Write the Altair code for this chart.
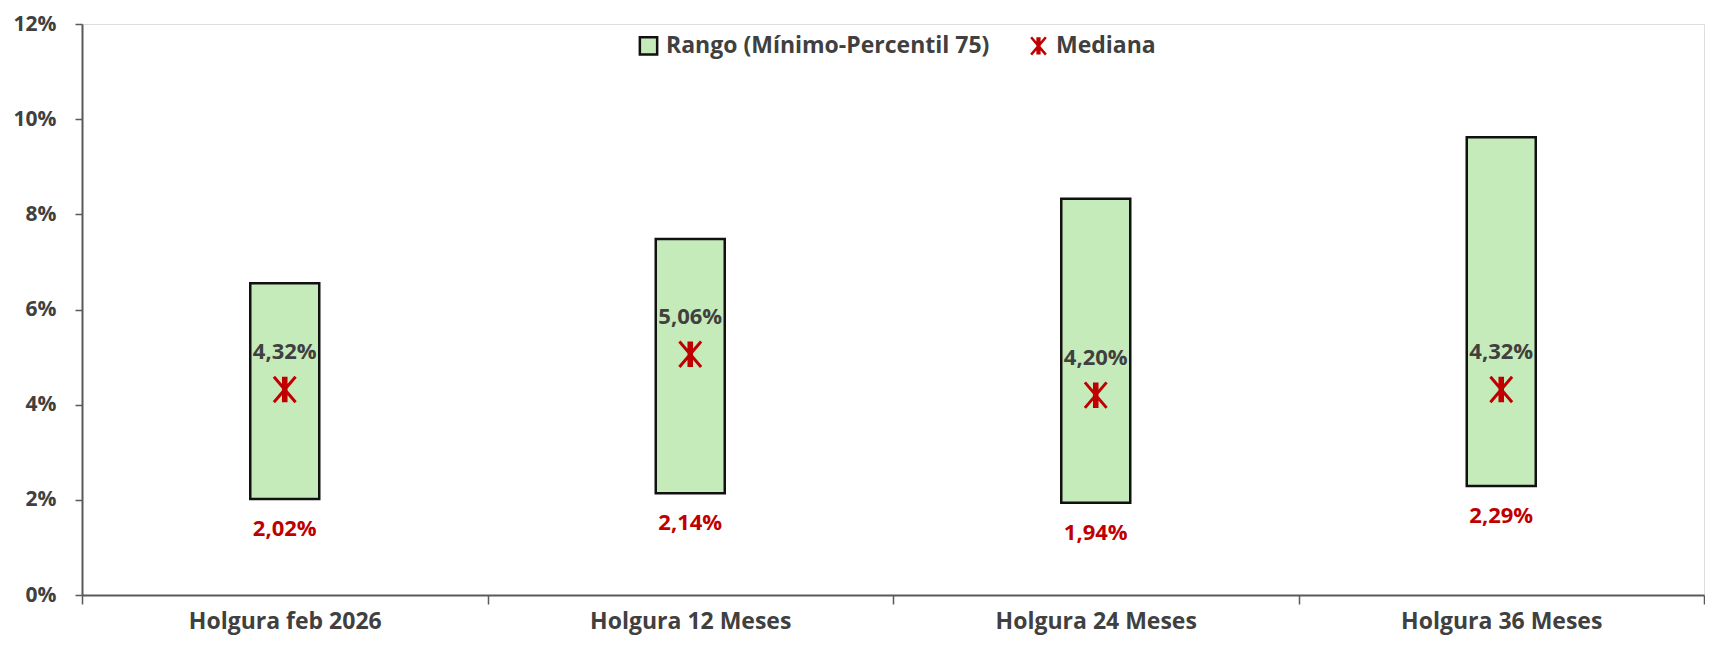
import altair as alt
import pandas as pd

categorias = ["Holgura feb 2026", "Holgura 12 Meses", "Holgura 24 Meses", "Holgura 36 Meses"]
minimo = [2.02, 2.14, 1.94, 2.29]
percentil75 = [6.55, 7.48, 8.33, 9.62]
mediana = [4.32, 5.06, 4.20, 4.32]

RANGO = "Rango (Mínimo-Percentil 75)"
MEDIANA = "Mediana"
FONT = "Open Sans"
GREEN = "#C6EBBB"
RED = "#C00000"
GRAY = "#404040"
STAR = "M-0.85,-1L0.85,1M-0.85,1L0.85,-1M-0.1,-1L-0.1,1M0.1,-1L0.1,1"


def fmt(v):
    return f"{v:.2f}".replace(".", ",") + "%"


df = pd.DataFrame({
    "cat": categorias,
    "min": minimo,
    "p75": percentil75,
    "med": mediana,
    "min_lbl": [fmt(v) for v in minimo],
    "med_lbl": [fmt(v) for v in mediana],
})
df_bar = df.assign(serie=RANGO)
df_med = df.assign(serie=MEDIANA)

x = alt.X("cat:N", sort=categorias, title=None,
          axis=alt.Axis(labelAngle=0, tickBand="extent", labelPadding=6, tickSize=9,
                        labelFontSize=23, labelFont=FONT, labelFontWeight="bold",
                        labelColor=GRAY, domainColor="#595959", tickColor="#595959",
                        domainWidth=2, tickWidth=1.5, labelLimit=0),
          scale=alt.Scale(paddingInner=0, paddingOuter=0))
y_scale = alt.Scale(domain=[0, 12], nice=False)
y_axis = alt.Axis(values=[0, 2, 4, 6, 8, 10, 12], labelExpr="datum.value + '%'",
                  grid=False, tickSize=7, labelPadding=19, labelFontSize=21,
                  labelFont=FONT, labelFontWeight="bold", labelColor=GRAY,
                  domainColor="#595959", tickColor="#595959", domainWidth=2, tickWidth=1.5,
                  labelLimit=0)

leg = alt.Legend(orient="none", legendX=555, legendY=10, direction="horizontal",
                 labelFont=FONT, labelFontSize=23, labelFontWeight="bold", labelColor=GRAY,
                 symbolSize=300, symbolStrokeWidth=2.5, columnPadding=36, labelOffset=6,
                 labelLimit=0, title=None)
fill_scale = alt.Scale(domain=[RANGO, MEDIANA], range=[GREEN, RED])
stroke_scale = alt.Scale(domain=[RANGO, MEDIANA], range=["#111111", RED])
shape_scale = alt.Scale(domain=[RANGO, MEDIANA], range=["square", STAR])

bars = alt.Chart(df_bar).mark_bar(size=69, stroke="#111111", strokeWidth=2.5).encode(
    x=x,
    y=alt.Y("min:Q", scale=y_scale, axis=y_axis, title=None),
    y2="p75:Q",
    fill=alt.Fill("serie:N", scale=fill_scale, legend=leg),
)

stars = alt.Chart(df_med).mark_point(filled=True, opacity=1, size=650, strokeWidth=3).encode(
    x=x,
    y=alt.Y("med:Q", scale=y_scale),
    fill=alt.Fill("serie:N", scale=fill_scale, legend=leg),
    stroke=alt.Stroke("serie:N", scale=stroke_scale, legend=leg),
    shape=alt.Shape("serie:N", scale=shape_scale, legend=leg),
)

med_text = alt.Chart(df).mark_text(font=FONT, fontSize=22, fontWeight="bold", color=GRAY,
                                   dy=-37, baseline="middle").encode(
    x=x, y=alt.Y("med:Q", scale=y_scale), text="med_lbl:N")

min_text = alt.Chart(df).mark_text(font=FONT, fontSize=22, fontWeight="bold", color=RED,
                                   dy=30, baseline="middle").encode(
    x=x, y=alt.Y("min:Q", scale=y_scale), text="min_lbl:N")

chart = alt.layer(bars, stars, med_text, min_text).properties(
    width=1622, height=571,
    padding={"left": 5, "top": 5, "right": 0, "bottom": 8},
).configure_view(stroke=None).configure(background="white")

chart.save("out.html", embed_options={"renderer": "svg", "actions": False})
